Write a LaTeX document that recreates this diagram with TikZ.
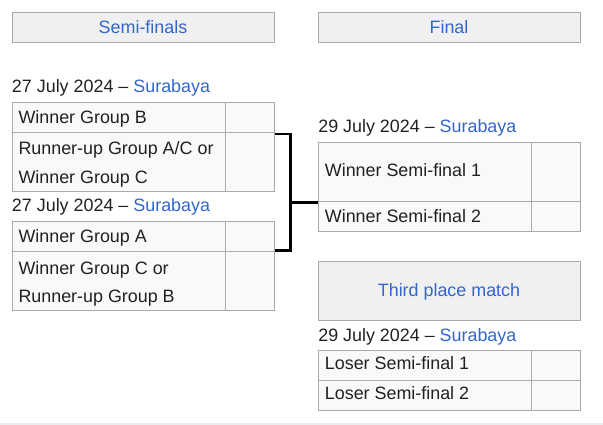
\documentclass[tikz,border=0pt]{standalone}
\usepackage{fontspec}
\setmainfont{Liberation Sans}
\definecolor{link}{HTML}{3366CC}
\definecolor{ink}{HTML}{202122}
\definecolor{cellfill}{HTML}{F9F9F9}
\definecolor{hdrfill}{HTML}{F0F0F0}
\definecolor{edge}{HTML}{AAAAAA}
\definecolor{hairgray}{HTML}{EAECF0}
\begin{document}
\begin{tikzpicture}[x=1pt,y=-1pt,
  every node/.style={font=\fontsize{17.9}{21}\selectfont, text=ink},
  hdr/.style={draw=edge, fill=hdrfill, line width=1pt, inner sep=0pt, text=link, text height=11.8pt, text depth=0pt, minimum width=262pt},
  cell/.style={draw=edge, fill=cellfill, line width=1pt, inner sep=0pt, anchor=north west},
  namecell/.style={cell, minimum width=213pt},
  scorecell/.style={cell, minimum width=49pt},
  fnamecell/.style={cell, minimum width=212.5pt},
  fscorecell/.style={cell, minimum width=49.5pt},
  lbl/.style={anchor=base west, inner sep=0pt},
  twoline/.style={lbl},
  bracket/.style={draw=black, line width=2.6pt, line join=miter}
]
\fill[white] (0,0) rectangle (603,425);
\useasboundingbox (0,0) rectangle (603,425);

% headers
\node[hdr, minimum height=30pt] (hsf) at (143,28) {Semi-finals};
\node[hdr, minimum height=30pt] (hf) at (449,28) {Final};
\node[hdr, minimum height=59pt] (h3) at (449,290.5) {Third place match};

% semi-final 1
\node[lbl] (d1) at (11.8,93) {27 July 2024 – \textcolor{link}{Surabaya}};
\node[namecell, minimum height=30.5pt] (sf1n1) at (12,102) {};
\node[scorecell, minimum height=30.5pt] (sf1s1) at (225,102) {};
\node[namecell, minimum height=58.5pt] (sf1n2) at (12,132.5) {};
\node[scorecell, minimum height=58.5pt] (sf1s2) at (225,132.5) {};
\node[lbl] (t11) at (18.3,124) {Winner Group B};
\node[twoline] (t12) at (18.3,155) {\parbox[t]{210pt}{\fontsize{17.9}{28.4}\selectfont Runner-up Group A/C or\\Winner Group C}};

% semi-final 2
\node[lbl] (d2) at (11.8,211.7) {27 July 2024 – \textcolor{link}{Surabaya}};
\node[namecell, minimum height=29.5pt] (sf2n1) at (12,221.5) {};
\node[scorecell, minimum height=29.5pt] (sf2s1) at (225,221.5) {};
\node[namecell, minimum height=59pt] (sf2n2) at (12,251) {};
\node[scorecell, minimum height=59pt] (sf2s2) at (225,251) {};
\node[lbl] (t21) at (18.3,243) {Winner Group A};
\node[twoline] (t22) at (18.3,274) {\parbox[t]{210pt}{\fontsize{17.9}{28.6}\selectfont Winner Group C or\\Runner-up Group B}};

% final
\node[lbl] (d3) at (318.1,132.7) {29 July 2024 – \textcolor{link}{Surabaya}};
\node[fnamecell, minimum height=59pt] (fn1) at (318,142) {};
\node[fscorecell, minimum height=59pt] (fs1) at (530.5,142) {};
\node[fnamecell, minimum height=30pt] (fn2) at (318,201) {};
\node[fscorecell, minimum height=30pt] (fs2) at (530.5,201) {};
\node[lbl] (tf1) at (324.7,177) {Winner Semi-final 1};
\node[lbl] (tf2) at (324.7,222.7) {Winner Semi-final 2};

% third place
\node[lbl] (d4) at (318.1,341.7) {29 July 2024 – \textcolor{link}{Surabaya}};
\node[fnamecell, minimum height=29.5pt] (ln1) at (318,350) {};
\node[fscorecell, minimum height=29.5pt] (ls1) at (530.5,350) {};
\node[fnamecell, minimum height=30pt] (ln2) at (318,379.5) {};
\node[fscorecell, minimum height=30pt] (ls2) at (530.5,379.5) {};
\node[lbl] (tl1) at (324.7,369.5) {Loser Semi-final 1};
\node[lbl] (tl2) at (324.7,399.5) {Loser Semi-final 2};

% bracket
\coordinate (j) at (290.5,202.5);
\draw[bracket] ([yshift=-1.5pt]sf1s2.north east) -| (j) |- ([yshift=1.5pt]sf2s1.south east);
\draw[bracket] (j) -- ([yshift=-1.5pt]fn2.north west);

% bottom rule
\coordinate (rl) at (0,424);
\coordinate (rr) at (603,424);
\draw[hairgray, line width=1.5pt] (rl) -- (rr);
\end{tikzpicture}
\end{document}
